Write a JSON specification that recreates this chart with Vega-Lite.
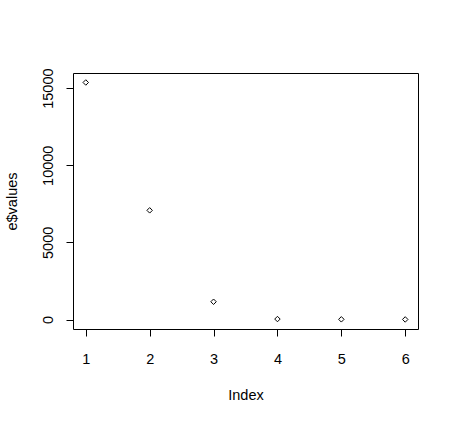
{
  "$schema": "https://vega.github.io/schema/vega-lite/v6.json",
  "width": 345,
  "height": 256,
  "autosize": {"type": "none"},
  "padding": {"left": 73, "top": 73, "right": 38, "bottom": 92},
  "background": "white",
  "config": {
    "view": {"stroke": "black", "strokeWidth": 1},
    "font": "Liberation Sans",
    "axis": {
      "grid": false,
      "domain": false,
      "tickColor": "black",
      "tickSize": 7,
      "labelColor": "black",
      "labelFontSize": 14.5,
      "labelFont": "Liberation Sans",
      "titleFont": "Liberation Sans",
      "titleFontSize": 14.5,
      "titleFontWeight": "normal",
      "titleColor": "black"
    }
  },
  "data": {
    "values": [
      {"Index": 1, "value": 15364},
      {"Index": 2, "value": 7076},
      {"Index": 3, "value": 1152},
      {"Index": 4, "value": 30},
      {"Index": 5, "value": 12},
      {"Index": 6, "value": 5}
    ]
  },
  "mark": {"type": "point", "shape": "diamond", "size": 30, "stroke": "black", "strokeWidth": 1, "filled": false, "opacity": 1},
  "encoding": {
    "x": {
      "field": "Index",
      "type": "quantitative",
      "scale": {"domain": [0.8, 6.2], "nice": false, "zero": false},
      "axis": {"values": [1, 2, 3, 4, 5, 6], "format": "d", "title": "Index", "labelPadding": 16, "titlePadding": 23, "labelFlush": false}
    },
    "y": {
      "field": "value",
      "type": "quantitative",
      "scale": {"domain": [-614.56, 15978.56], "nice": false, "zero": false},
      "axis": {"values": [0, 5000, 10000, 15000], "format": "d", "title": "e$values", "labelAngle": -90, "labelAlign": "center", "labelBaseline": "bottom", "labelPadding": 11, "titlePadding": 21, "labelFlush": false}
    }
  }
}
